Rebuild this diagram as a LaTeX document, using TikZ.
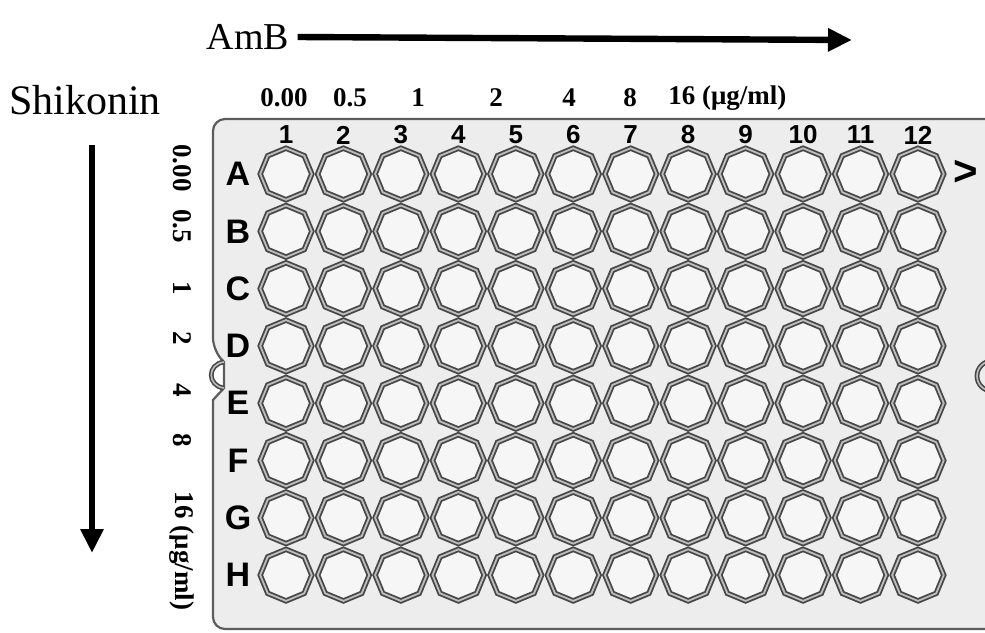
\documentclass[tikz,border=0pt]{standalone}
\usepackage{fontspec}
\setmainfont{Liberation Serif}
\newfontfamily\platefont{Liberation Sans}
\usepackage{tikz}
\usetikzlibrary{arrows.meta, shapes.geometric}
\definecolor{PlateFill}{HTML}{EDEDED}
\definecolor{PlateEdge}{HTML}{5C5C5C}
\definecolor{WellFill}{HTML}{F6F6F6}
\definecolor{WellEdge}{HTML}{474747}
\definecolor{WellGap}{HTML}{BDBDBD}

\tikzset{
  plate/.style={draw=PlateEdge, fill=PlateFill, line width=1.1pt},
  well/.style={regular polygon, regular polygon sides=8, shape border rotate=22.5,
    minimum size=25.8pt, inner sep=0pt, draw=WellEdge, line width=0.9pt,
    double=WellGap, double distance=0.9pt, fill=WellFill},
  notchline/.style={draw=WellEdge, line width=0.8pt, double=WellGap, double distance=0.8pt},
  collabel/.style={font=\platefont\bfseries\fontsize{13}{15}\selectfont, inner sep=0pt},
  rowlabel/.style={font=\platefont\bfseries\fontsize{17}{19}\selectfont, inner sep=0pt},
  conc/.style={font=\bfseries\fontsize{13.5}{15}\selectfont, inner sep=0pt},
  headlabel/.style={font=\fontsize{19}{21}\selectfont, inner sep=0pt},
  bigarrow/.style={-{Triangle[length=12pt, width=11pt]}, line width=3.2pt, black}
}

\begin{document}
\begin{tikzpicture}[x=0.5pt, y=-0.5pt]
  \useasboundingbox (0,0) rectangle (985,632);
  \clip (0,0) rectangle (985,632);
  \fill[white] (0,0) rectangle (985,632);

  % Plate
  \draw[plate] (1000,119) [rounded corners=6pt] -- (213,119) -- (213,350) [sharp corners]
    -- (224,362) -- (224,388) -- (213,400) [rounded corners=6pt] -- (213,629) -- (1000,629) -- cycle;
  \draw[notchline] (224,362) .. controls (207,364) and (207,386) .. (224,388);
  \node[circle, minimum size=15pt, inner sep=0pt, notchline, fill=PlateFill] (rightnotch) at (992,376) {};

  % Wells
  \foreach \c in {1,...,12}
    \node[collabel] (col\c) at ({286+57.45*(\c-1)},135) {\c};
  \foreach \r [count=\i from 0] in {A,B,C,D,E,F,G,H} {
    \node[rowlabel] (row\r) at (238,{174+57.3*\i}) {\r};
    \foreach \c in {1,...,12}
      \node[well] (well\r\c) at ({286+57.45*(\c-1)},{174+57.3*\i}) {};
  }
  \node[rowlabel, font=\platefont\bfseries\fontsize{21}{23}\selectfont] (orient) at (966,173) {>};

  % AmB concentrations
  \foreach \x/\t [count=\k] in {284/0.00, 350/0.5, 418/1, 496/2, 569/4, 630/8}
    \node[conc] (amb\k) at (\x,98) {\t};
  \node[conc, anchor=west] (amb7) at (668,98) {16 (μg/ml)};

  % Shikonin concentrations
  \foreach \y/\t [count=\k] in {168/0.00, 226/0.5, 288/1, 338/2, 390/4, 440/8}
    \node[conc, rotate=-90] (shik\k) at (182,\y) {\t};
  \node[conc, rotate=-90] (shik7) at (182,551) {16 (μg/ml)};

  % Headings
  \node[headlabel] (amb) at (248,37) {AmB};
  \coordinate (ambend) at (852,40);
  \node[headlabel, font=\fontsize{21}{23}\selectfont] (shikonin) at (85,100) {Shikonin};
  \coordinate (shikstart) at (92,145);
  \coordinate (shikend) at (92,553);

  % Paths
  \draw[bigarrow] (amb.east) ++(4pt,0) -- (ambend);
  \draw[bigarrow] (shikstart) -- (shikend);
\end{tikzpicture}
\end{document}
